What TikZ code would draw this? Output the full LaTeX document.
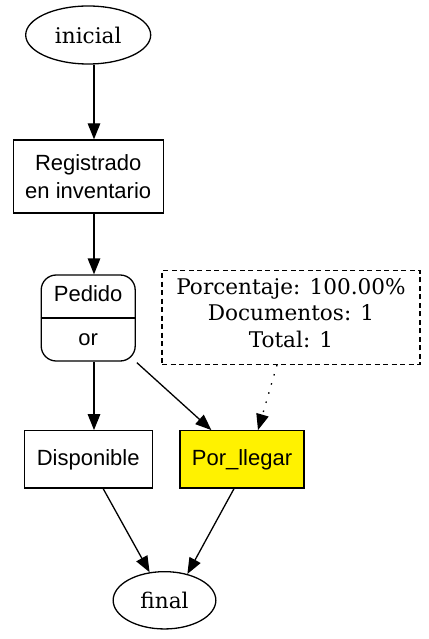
\documentclass[tikz,border=0pt]{standalone}
\usepackage{fontspec}
\setmainfont{DejaVu Serif}
\setsansfont{Liberation Sans}
\usetikzlibrary{arrows.meta,shapes.geometric}
\begin{document}
\begin{tikzpicture}[x=1pt,y=-1pt,
  serif/.style={font=\fontsize{21.6}{26.5}\selectfont},
  sans/.style={font=\sffamily\fontsize{22}{28}\selectfont},
  every node/.style={line width=1.3pt,inner sep=0pt},
  ell/.style={draw, ellipse, serif},
  box/.style={draw, rectangle, sans, align=center},
  conn/.style={line width=1.3pt, -{Triangle[length=16pt,width=12.5pt]}},
]
\useasboundingbox[fill=white] (0,0) rectangle (428,639);
\node[ell, minimum width=125, minimum height=58] (ini) at (88.2,35) {inicial};
\node[box, minimum width=150, minimum height=73] (reg) at (88.2,176.5) {Registrado\\en inventario};
\node[draw, rounded corners=15pt, minimum width=94, minimum height=86] (ped) at (88.2,318) {};
\draw[line width=1.3pt] (ped.west) -- (ped.east);
\node[sans, anchor=base] (pedt) at (88.2,301.5) {Pedido};
\node[sans, anchor=base] (pedo) at (88.2,345.5) {or};
\node[draw, dash pattern=on 5pt off 3.5pt, minimum width=258, minimum height=93.6] (note) at (291,317.5) {};
\node[serif, align=center] (notet) at (291,313) {Porcentaje: 100.00\%\\Documentos: 1\\Total: 1};
\node[box, minimum width=128, minimum height=57.3] (disp) at (88.2,459.4) {Disponible};
\node[box, fill=yellow, minimum width=124, minimum height=57.3] (pl) at (242,459.4) {Por\_llegar};
\node[ell, minimum width=102.7, minimum height=57.3] (fin) at (164.5,600.3) {final};
\draw[conn] ([xshift=5.8pt]ini.south) -- ([xshift=5.8pt]reg.north);
\draw[conn] ([xshift=5.8pt]reg.south) -- ([xshift=5.8pt]ped.north);
\draw[conn] ([xshift=5.8pt]ped.south) -- ([xshift=5.8pt]disp.north);
\draw[conn] ([xshift=1pt,yshift=-1pt]ped.south east) -- ([xshift=32pt]pl.north west);
\draw[conn, dash pattern=on 1.5pt off 8pt] ([xshift=-14pt]note.south) -- ([xshift=16pt]pl.north);
\draw[conn] ([xshift=15pt]disp.south) -- (fin.118);
\draw[conn] ([xshift=-8pt]pl.south) -- (fin.49);
\end{tikzpicture}
\end{document}
